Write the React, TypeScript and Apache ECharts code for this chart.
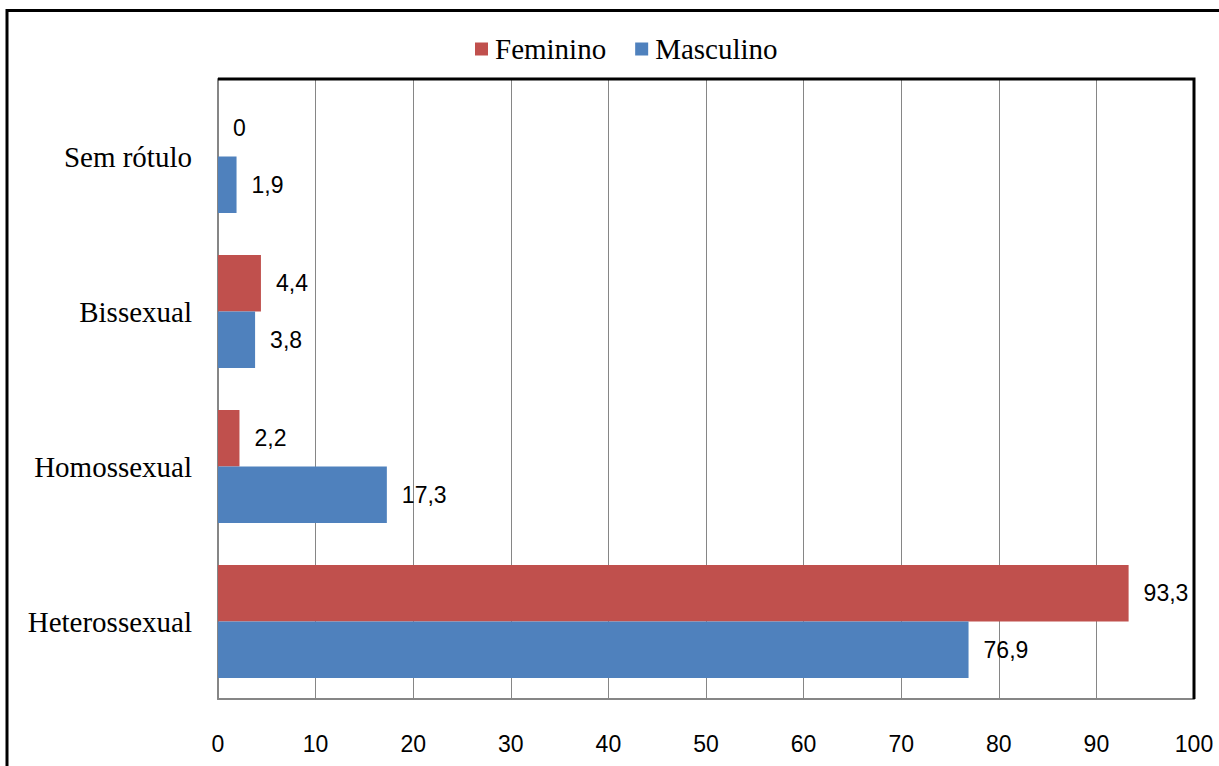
import React, { useEffect, useRef } from "react";
import * as echarts from "echarts";

const categories = ["Heterossexual", "Homossexual", "Bissexual", "Sem rótulo"];
const feminino = [93.3, 2.2, 4.4, 0];
const masculino = [76.9, 17.3, 3.8, 1.9];
const xTicks = { min: 0, max: 100, interval: 10 };

const RED = "#C0504D";
const BLUE = "#4F81BD";
const GRID = "#868686";

export default function App() {
  const ref = useRef<HTMLDivElement>(null);
  useEffect(() => {
    document.body.style.margin = "0";
    const chart = echarts.init(ref.current!, null, { renderer: "svg" });
    const labelFmt = (p: any) => String(p.value).replace(".", ",");
    const label = {
      show: true,
      position: "right",
      distance: 15,
      formatter: labelFmt,
      fontFamily: "'Liberation Sans', Arial, sans-serif",
      fontSize: 23,
      color: "#000",
    };
    chart.setOption({
      animation: false,
      backgroundColor: "#fff",
      grid: { left: 218, right: 25, top: 79, bottom: 67, containLabel: false },
      legend: {
        data: ["Feminino", "Masculino"],
        left: 470,
        top: 29,
        icon: "rect",
        itemWidth: 13,
        itemHeight: 13,
        itemGap: 29,
        textStyle: {
          fontFamily: "'Liberation Serif', 'Times New Roman', serif",
          fontSize: 29,
          color: "#000",
          padding: [0, 0, 0, 2],
          lineHeight: 30,
        },
      },
      xAxis: {
        type: "value",
        min: xTicks.min,
        max: xTicks.max,
        interval: xTicks.interval,
        axisLine: { show: true, lineStyle: { color: GRID, width: 2 } },
        axisTick: { show: false },
        splitLine: { show: true, lineStyle: { color: GRID, width: 1 } },
        axisLabel: {
          margin: 33,
          fontFamily: "'Liberation Sans', Arial, sans-serif",
          fontSize: 23,
          color: "#000",
        },
      },
      yAxis: {
        type: "category",
        data: categories,
        axisLine: { show: true, lineStyle: { color: GRID, width: 2 } },
        axisTick: { show: false },
        axisLabel: {
          margin: 26,
          fontFamily: "'Liberation Serif', 'Times New Roman', serif",
          fontSize: 29,
          color: "#000",
        },
      },
      series: [
        {
          name: "Feminino",
          type: "bar",
          data: feminino,
          itemStyle: { color: RED },
          barGap: "0%",
          barCategoryGap: "27%",
          label,
        },
        {
          name: "Masculino",
          type: "bar",
          data: masculino,
          itemStyle: { color: BLUE },
          barGap: "0%",
          barCategoryGap: "27%",
          label,
        },
      ],
      graphic: [
        {
          type: "rect",
          shape: { x: 7, y: 10.5, width: 1400, height: 900 },
          style: { fill: "none", stroke: "#000", lineWidth: 3 },
          silent: true,
        },
        {
          type: "polyline",
          shape: { points: [[218, 79], [1194, 79], [1194, 699]] },
          style: { fill: "none", stroke: "#000", lineWidth: 3 },
          silent: true,
          z: 10,
        },
      ],
    });
    return () => chart.dispose();
  }, []);
  return (
    <div
      ref={ref}
      style={{ position: "absolute", left: 0, top: 0, width: 1219, height: 766 }}
    />
  );
}
